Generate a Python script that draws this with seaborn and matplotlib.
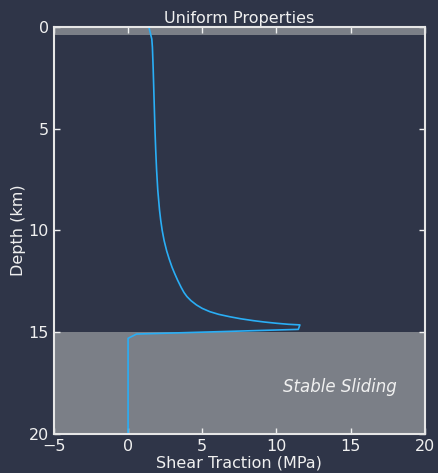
import seaborn as sns
import matplotlib.pyplot as plt
import pandas as pd

# shear traction profile
depth = [0.0, 0.3, 0.6, 1.0, 2.0, 3.0, 4.0, 5.0, 6.0, 7.0, 8.0, 8.5, 9.0, 9.5,
         10.0, 10.5, 11.0, 11.4, 11.8, 12.1, 12.43, 12.8, 13.05, 13.25, 13.45,
         13.66, 13.83, 13.99, 14.12, 14.24, 14.34, 14.43, 14.5, 14.56, 14.61, 14.64,
         14.86, 15.09, 15.3, 20.0]
traction = [1.4, 1.5, 1.6, 1.64, 1.69, 1.73, 1.77, 1.81, 1.86, 1.92, 2.0, 2.06, 2.12, 2.2,
            2.3, 2.43, 2.6, 2.77, 2.96, 3.13, 3.33, 3.58, 3.77, 3.97, 4.24,
            4.61, 5.0, 5.51, 6.1, 6.86, 7.6, 8.43, 9.2, 10.0, 10.8, 11.58,
            11.47, 0.57, 0.0, 0.0]

x_ticks = [-5, 0, 5, 10, 15, 20]
y_ticks = [0, 5, 10, 15, 20]

bg = '#2f3548'
band = '#7b7f87'
fg = '#f0f0f0'

df = pd.DataFrame({'traction': traction, 'depth': depth})

fig = plt.figure(figsize=(4.38, 4.73), dpi=100, facecolor=bg)
ax = fig.add_axes([0.123, 0.0825, 0.847, 0.8605])
ax.set_facecolor(bg)

ax.axhspan(0, 0.4, color=band, zorder=0, lw=0)
ax.axhspan(15, 20, color=band, zorder=0, lw=0)

sns.lineplot(data=df, x='traction', y='depth', sort=False, estimator=None,
             color='#2aaef5', lw=1.2, ax=ax)

ax.set_xlim(-5, 20)
ax.set_ylim(20, 0)
ax.set_xticks(x_ticks)
ax.set_yticks(y_ticks)
ax.tick_params(direction='in', top=True, right=True, colors=fg, labelsize=11.5,
               length=4, width=1)
for s in ax.spines.values():
    s.set_color('#e6e6e6')
    s.set_linewidth(1.5)

ax.set_xlabel('Shear Traction (MPa)', color=fg, fontsize=11.5, labelpad=1)
ax.set_ylabel('Depth (km)', color=fg, fontsize=11.5, labelpad=2)
ax.set_title('Uniform Properties', color=fg, fontsize=11.5, pad=3)
ax.text(14.3, 17.7, 'Stable Sliding', color=fg, fontsize=12, style='italic',
        ha='center', va='center')

fig.savefig('out.png', dpi=100, facecolor=bg)
